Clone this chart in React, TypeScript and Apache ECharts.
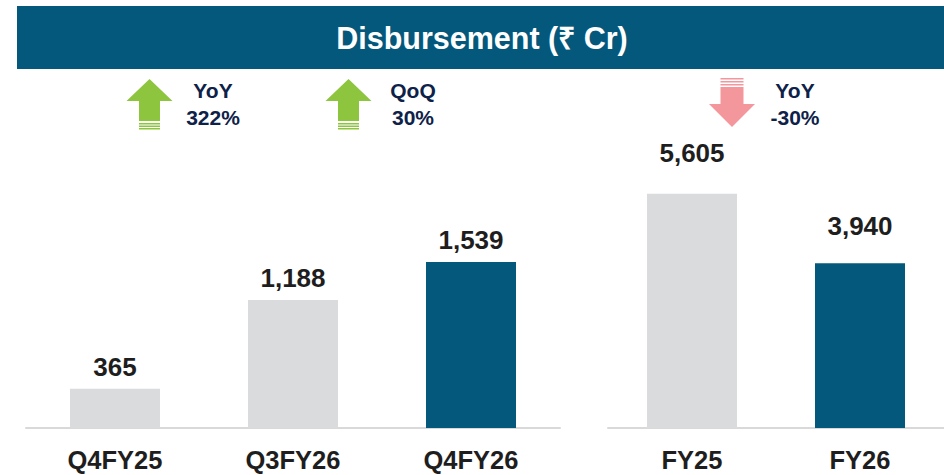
import React, { useEffect, useRef } from "react";
import * as echarts from "echarts";

const quarterCategories = ["Q4FY25", "Q3FY26", "Q4FY26"];
const quarterValues = [365, 1188, 1539];
const yearCategories = ["FY25", "FY26"];
const yearValues = [5605, 3940];
const titleText = "Disbursement (₹ Cr)";
const growthNotes = [
  { label: "YoY", value: "322%" },
  { label: "QoQ", value: "30%" },
  { label: "YoY", value: "-30%" },
];

const NAVY = "#04587B";
const GRAY = "#DADBDC";
const GREEN = "#8DC53F";
const PINK = "#F4979C";
const TEXT_DARK = "#1E1E1E";
const NOTE_TEXT = "#0E2148";
const FONT = "Arial, 'Liberation Sans', Helvetica, sans-serif";

function upArrow(cx: number, color: string) {
  const tipY = 79, headY = 101, half = 23, stemHalf = 10.5, stemEnd = 121;
  return [
    {
      type: "polygon",
      shape: {
        points: [
          [cx, tipY], [cx + half, headY], [cx + stemHalf, headY], [cx + stemHalf, stemEnd],
          [cx - stemHalf, stemEnd], [cx - stemHalf, headY], [cx - half, headY],
        ],
      },
      style: { fill: color },
    },
    ...[123, 125.5, 128].map((y) => ({
      type: "rect",
      shape: { x: cx - stemHalf, y, width: stemHalf * 2, height: 1.5 },
      style: { fill: color },
    })),
  ];
}

function downArrow(cx: number, color: string) {
  const tipY = 127, headY = 104, half = 23, stemHalf = 11.5, stemStart = 87;
  return [
    {
      type: "polygon",
      shape: {
        points: [
          [cx, tipY], [cx + half, headY], [cx + stemHalf, headY], [cx + stemHalf, stemStart],
          [cx - stemHalf, stemStart], [cx - stemHalf, headY], [cx - half, headY],
        ],
      },
      style: { fill: color },
    },
    ...[78, 81, 84].map((y) => ({
      type: "rect",
      shape: { x: cx - stemHalf, y, width: stemHalf * 2, height: 1.5 },
      style: { fill: color },
    })),
  ];
}

function noteText(cx: number, note: { label: string; value: string }) {
  return [
    {
      type: "text",
      x: cx, y: 90,
      style: { text: note.label, fill: NOTE_TEXT, font: `bold 21px ${FONT}`, align: "center", verticalAlign: "middle" },
    },
    {
      type: "text",
      x: cx, y: 117,
      style: { text: note.value, fill: NOTE_TEXT, font: `bold 21px ${FONT}`, align: "center", verticalAlign: "middle" },
    },
  ];
}

export default function App() {
  const ref = useRef<HTMLDivElement>(null);
  useEffect(() => {
    if (!ref.current) return;
    const chart = echarts.init(ref.current, null, { renderer: "svg" });
    const fmt = (v: number) => v.toLocaleString("en-US");
    const axisCommon = {
      type: "category",
      axisTick: { show: false },
      axisLine: { show: true, lineStyle: { color: "#D9D9D9", width: 2 } },
      axisLabel: { color: TEXT_DARK, fontSize: 25.5, fontWeight: "bold", fontFamily: FONT, margin: 19 },
    };
    const valueAxisCommon = {
      type: "value",
      min: 0,
      show: false,
      splitLine: { show: false },
    };
    const labelCommon = {
      show: true,
      position: "top",
      color: TEXT_DARK,
      fontSize: 26,
      fontWeight: "bold",
      fontFamily: FONT,
      formatter: (p: any) => fmt(p.value),
    };
    chart.setOption({
      animation: false,
      backgroundColor: "#ffffff",
      grid: [
        { left: 26, right: 384, top: 150, bottom: 47 },
        { left: 608, right: 0, top: 150, bottom: 47 },
      ],
      xAxis: [
        { ...axisCommon, gridIndex: 0, data: quarterCategories },
        { ...axisCommon, gridIndex: 1, data: yearCategories },
      ],
      yAxis: [
        { ...valueAxisCommon, gridIndex: 0, max: 2578 },
        { ...valueAxisCommon, gridIndex: 1, max: 6650 },
      ],
      series: [
        {
          type: "bar",
          xAxisIndex: 0,
          yAxisIndex: 0,
          barWidth: 90,
          label: { ...labelCommon, distance: 9 },
          data: quarterValues.map((v, i) => ({
            value: v,
            itemStyle: { color: i === quarterValues.length - 1 ? NAVY : GRAY },
          })),
        },
        {
          type: "bar",
          xAxisIndex: 1,
          yAxisIndex: 1,
          barWidth: 90,
          label: { ...labelCommon },
          data: yearValues.map((v, i) => ({
            value: v,
            itemStyle: { color: i === yearValues.length - 1 ? NAVY : GRAY },
            label: { distance: i === 0 ? 28 : 24 },
          })),
        },
      ],
      graphic: [
        {
          type: "rect",
          shape: { x: 17, y: 6, width: 927, height: 63 },
          style: { fill: NAVY },
        },
        {
          type: "text",
          x: 482, y: 38,
          style: { text: titleText, fill: "#ffffff", font: `bold 30.5px ${FONT}`, align: "center", verticalAlign: "middle" },
        },
        ...upArrow(149.5, GREEN),
        ...noteText(213, growthNotes[0]),
        ...upArrow(348.5, GREEN),
        ...noteText(413, growthNotes[1]),
        ...downArrow(732, PINK),
        ...noteText(795, growthNotes[2]),
      ],
    });
    return () => chart.dispose();
  }, []);
  return (
    <div
      ref={ref}
      style={{ position: "fixed", left: 0, top: 0, width: 944, height: 475, background: "#fff" }}
    />
  );
}
